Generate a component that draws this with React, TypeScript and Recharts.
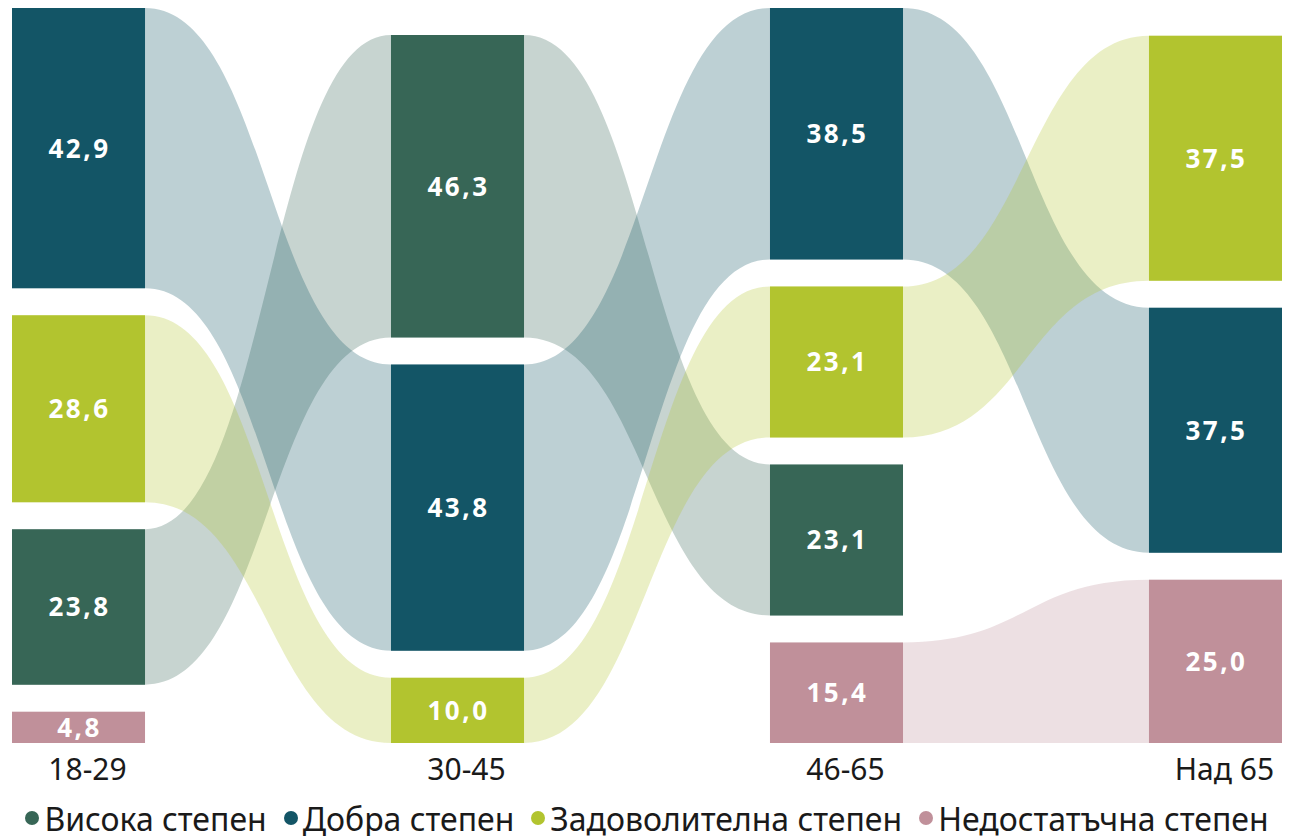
import React from "react";
import { ComposedChart, Area, Scatter, XAxis, YAxis, Legend } from "recharts";

const AGE_GROUPS = ["18-29", "30-45", "46-65", "Над 65"];
const LEVELS = ["Висока степен", "Добра степен", "Задоволителна степен", "Недостатъчна степен"];
const COLORS = ["#376656", "#135566", "#b2c42f", "#c0909a"];

// % по възрастови групи (null = няма такъв отговор)
const VISOKA = [23.8, 46.3, 23.1, null];
const DOBRA = [42.9, 43.8, 38.5, 37.5];
const ZADOVOLITELNA = [28.6, 10.0, 23.1, 37.5];
const NEDOSTATACHNA = [4.8, null, 15.4, 25.0];

const SERIES = [VISOKA, DOBRA, ZADOVOLITELNA, NEDOSTATACHNA];

const GAP = 4.13; // празно място между блоковете, в единици на стойността
const BAR_W = 0.351; // ширина на колоната спрямо стъпката
const FONT = "'Noto Sans', sans-serif";

type Block = { level: number; value: number; lo: number; hi: number };

// подреждане във всяка колона: най-голямото отгоре, долу подравнено
const columns: Block[][] = AGE_GROUPS.map((_, c) => {
  const items = SERIES.map((s, level) => ({ level, value: s[c] as number | null }))
    .filter((d) => d.value != null)
    .sort((a, b) => (a.value as number) - (b.value as number) || a.level - b.level);
  let y = 0;
  return items.map((d) => {
    const v = d.value as number;
    const b = { level: d.level, value: v, lo: y, hi: y + v };
    y += v + GAP;
    return b;
  });
});

const Y_MAX = Math.max(...columns.map((col) => col[col.length - 1].hi));

// по два реда на колона: лявият и десният ѝ ръб
const rows = AGE_GROUPS.flatMap((_, c) =>
  [c, c + BAR_W].map((x) => {
    const row: Record<string, any> = { x };
    columns[c].forEach((b) => {
      row[`flow${b.level}`] = [b.lo, b.hi];
      row[`bar${c}_${b.level}`] = [b.lo, b.hi];
    });
    return row;
  })
);

const labels = columns.flatMap((col, c) =>
  col.map((b) => ({
    x: c + BAR_W / 2,
    y: (b.lo + b.hi) / 2,
    text: b.value.toFixed(1).replace(".", ","),
  }))
);

const AgeTick = ({ x, y, payload }: any) => (
  <text x={x + 9} y={y + 29} textAnchor="middle" fontFamily={FONT} fontSize={30} fill="#1a1a1a">
    {AGE_GROUPS[Math.round(payload.value - BAR_W / 2)]}
  </text>
);

const ValueLabel = ({ cx, cy, payload }: any) => (
  <text
    x={cx + 1}
    y={cy}
    dy="0.36em"
    textAnchor="middle"
    fill="#ffffff"
    fontFamily={FONT}
    fontWeight={700}
    fontSize={26}
    letterSpacing={2.5}
  >
    {payload.text}
  </text>
);

const renderLegend = () => (
  <div
    style={{
      display: "flex",
      justifyContent: "center",
      alignItems: "center",
      gap: 17,
      height: 36,
      fontFamily: FONT,
      fontSize: 32,
      color: "#1a1a1a",
      whiteSpace: "nowrap",
    }}
  >
    {LEVELS.map((name, i) => (
      <div key={name} style={{ display: "flex", alignItems: "center", gap: 5 }}>
        <span
          style={{ display: "inline-block", width: 14, height: 14, borderRadius: "50%", background: COLORS[i] }}
        />
        <span>{name}</span>
      </div>
    ))}
  </div>
);

export default function App() {
  return (
    <ComposedChart
      width={1279}
      height={828}
      data={rows}
      margin={{ top: 0, right: 5, bottom: 0, left: 4 }}
    >
      <XAxis
        type="number"
        dataKey="x"
        domain={[0, 3 + BAR_W]}
        ticks={AGE_GROUPS.map((_, c) => c + BAR_W / 2)}
        tick={<AgeTick />}
        axisLine={false}
        tickLine={false}
        height={57}
        interval={0}
      />
      <YAxis type="number" dataKey="y" domain={[0, Y_MAX]} hide />
      {LEVELS.map((name, level) => (
        <Area
          key={`flow${level}`}
          dataKey={`flow${level}`}
          type="bumpX"
          fill={COLORS[level]}
          fillOpacity={0.28}
          stroke="none"
          dot={false}
          activeDot={false}
          isAnimationActive={false}
          legendType="none"
        />
      ))}
      {columns.flatMap((col, c) =>
        col.map((b) => (
          <Area
            key={`bar${c}_${b.level}`}
            dataKey={`bar${c}_${b.level}`}
            type="linear"
            fill={COLORS[b.level]}
            fillOpacity={1}
            stroke="none"
            dot={false}
            activeDot={false}
            isAnimationActive={false}
            legendType="none"
          />
        ))
      )}
      <Scatter data={labels} dataKey="y" shape={<ValueLabel />} isAnimationActive={false} legendType="none" />
      <Legend verticalAlign="bottom" height={36} content={renderLegend} />
    </ComposedChart>
  );
}
